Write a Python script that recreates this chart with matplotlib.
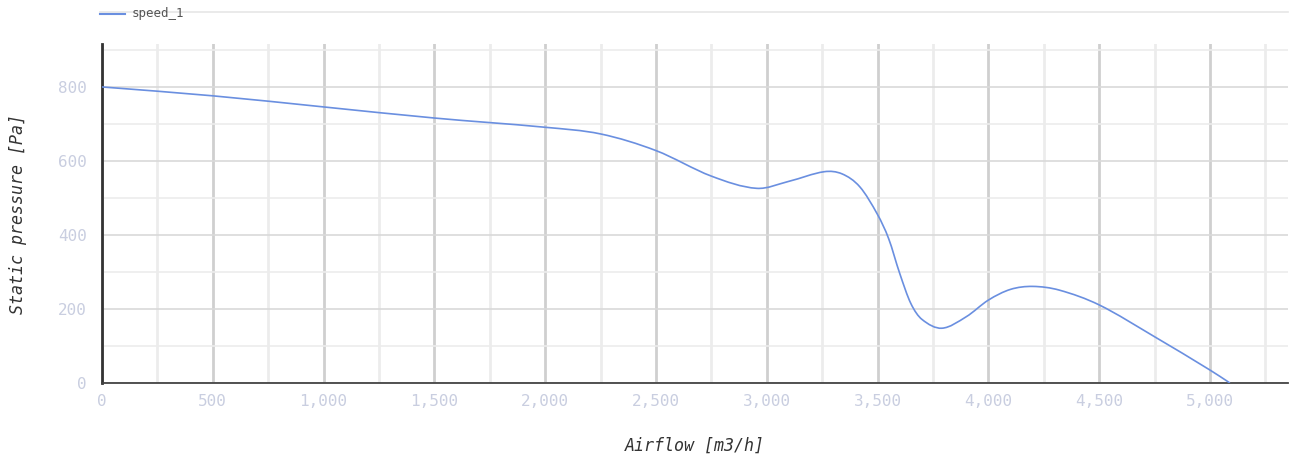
import matplotlib
matplotlib.use('Agg')
import matplotlib.pyplot as plt
import numpy as np
from matplotlib.path import Path
from matplotlib.patches import PathPatch
from matplotlib.lines import Line2D
from matplotlib.ticker import MultipleLocator, FuncFormatter

# airflow [m3/h] vs static pressure [Pa]
airflow = [0, 500, 1000, 1500, 2000, 2250, 2500, 2750, 2955, 3100, 3260, 3340, 3420,
           3500, 3550, 3600, 3650, 3700, 3790, 3900, 4000, 4100, 4200, 4320, 4500,
           4750, 5000, 5090]
pressure = [800, 776, 746, 716, 691, 673, 628, 559, 526, 545, 571, 565, 530,
            455, 390, 296, 215, 172, 148, 179, 224, 253, 261, 251, 211,
            125, 35, 0]
series_name = 'speed_1'

LINE_COLOR = '#6a8fe0'
TICK_COLOR = '#c9cee0'
LABEL_COLOR = '#333333'
MONO = ['DejaVu Sans Mono']


def smooth_path(xs, ys):
    # cubic hermite curve through the points (finite-difference slopes), as beziers
    xs = np.asarray(xs, float)
    ys = np.asarray(ys, float)
    n = len(xs)
    m = np.zeros(n)
    m[0] = (ys[1] - ys[0]) / (xs[1] - xs[0])
    m[-1] = (ys[-1] - ys[-2]) / (xs[-1] - xs[-2])
    for i in range(1, n - 1):
        m[i] = (ys[i + 1] - ys[i - 1]) / (xs[i + 1] - xs[i - 1])
    verts = [(xs[0], ys[0])]
    codes = [Path.MOVETO]
    for i in range(n - 1):
        h = xs[i + 1] - xs[i]
        verts += [(xs[i] + h / 3, ys[i] + m[i] * h / 3),
                  (xs[i + 1] - h / 3, ys[i + 1] - m[i + 1] * h / 3),
                  (xs[i + 1], ys[i + 1])]
        codes += [Path.CURVE4] * 3
    return Path(verts, codes)


fig = plt.figure(figsize=(12.93, 4.59), dpi=100)
ax = fig.add_axes([0.0789, 0.1656, 0.9172, 0.7385])

ax.add_patch(PathPatch(smooth_path(airflow, pressure), facecolor='none',
                       edgecolor=LINE_COLOR, linewidth=1.2, zorder=3))

ax.set_xlim(0, 5352)
ax.set_ylim(0, 916)

ax.xaxis.set_major_locator(MultipleLocator(500))
ax.xaxis.set_minor_locator(MultipleLocator(250))
ax.yaxis.set_major_locator(MultipleLocator(200))
ax.yaxis.set_minor_locator(MultipleLocator(100))
ax.xaxis.set_major_formatter(FuncFormatter(lambda v, p: '{:,.0f}'.format(v)))

ax.grid(which='major', axis='x', color='#cfcfcf', linewidth=2.0)
ax.grid(which='minor', axis='x', color='#ececec', linewidth=2.0)
ax.grid(which='major', axis='y', color='#d9d9d9', linewidth=1.2)
ax.grid(which='minor', axis='y', color='#ececec', linewidth=1.2)
ax.set_axisbelow(True)

ax.tick_params(which='both', length=0, colors=TICK_COLOR, labelsize=11.5)
ax.tick_params(axis='y', pad=11)
ax.tick_params(axis='x', pad=8)
for lbl in ax.get_xticklabels() + ax.get_yticklabels():
    lbl.set_family(MONO)
    lbl.set_color(TICK_COLOR)

for s in ['top', 'right']:
    ax.spines[s].set_visible(False)
ax.spines['left'].set_color('#333333')
ax.spines['left'].set_linewidth(2.0)
ax.spines['bottom'].set_color('#444444')
ax.spines['bottom'].set_linewidth(1.3)

ax.set_xlabel('Airflow [m3/h]', family=MONO, style='italic', fontsize=12,
              color=LABEL_COLOR, labelpad=20)
ax.set_ylabel('Static pressure [Pa]', family=MONO, style='italic', fontsize=12,
              color=LABEL_COLOR, labelpad=22)

# legend strip at the top
fig.add_artist(Line2D([100 / 1293, 1288 / 1293], [1 - 12 / 459] * 2,
                      color='#e6e6e6', linewidth=1.2))
fig.add_artist(Line2D([100 / 1293, 125 / 1293], [1 - 14 / 459] * 2,
                      color=LINE_COLOR, linewidth=1.5))
fig.text(132 / 1293, 1 - 14 / 459, series_name, family=MONO, fontsize=9,
         color='#555555', va='center', ha='left')

fig.savefig('out.png', dpi=100)
